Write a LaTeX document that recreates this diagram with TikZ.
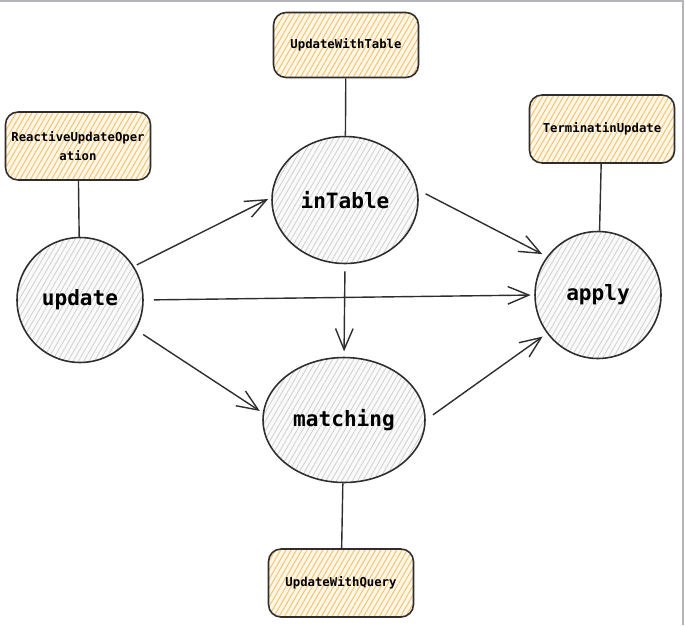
\documentclass[tikz,border=0pt]{standalone}
\usepackage{fontspec}
\setmonofont{DejaVu Sans Mono}
\usetikzlibrary{shapes.geometric,arrows.meta,patterns.meta}
\definecolor{hatchgray}{HTML}{CFCFCF}
\definecolor{hatchgold}{HTML}{F2B647}
\definecolor{inkgray}{HTML}{2E2E2E}
\definecolor{framegray}{HTML}{B4B4BC}
\tikzset{
  state/.style={ellipse, draw=inkgray, line width=0.9pt, inner sep=0pt,
    preaction={fill=gray!4},
    pattern={Lines[angle=60,distance=2.6pt,line width=0.45pt]}, pattern color=hatchgray,
    font=\ttfamily\bfseries\fontsize{12}{14}\selectfont},
  tag/.style={rectangle, rounded corners=0.25cm, draw=inkgray, line width=0.9pt,
    minimum width=2.9cm, minimum height=1.36cm, align=center, inner sep=2pt,
    preaction={fill=hatchgold!12},
    pattern={Lines[angle=60,distance=2.6pt,line width=0.5pt]}, pattern color=hatchgold!85,
    font=\ttfamily\bfseries\fontsize{7}{11}\selectfont},
  flow/.style={-{Straight Barb[length=12pt,width=10pt]}, line width=0.8pt, draw=inkgray},
  link/.style={line width=0.8pt, draw=inkgray}
}
\begin{document}
\begin{tikzpicture}[x=0.02cm,y=-0.02cm]
      \useasboundingbox (0,0) rectangle (685,625);
      \draw[framegray, line width=1.2pt] (0,1) -- (683,1) -- (683,625);
      \draw
        (80,300) node[state, minimum width=2.52cm, minimum height=2.5cm] (update){update}
        (345,200) node[state, minimum width=2.92cm, minimum height=2.54cm] (inTable){inTable}
        (344,420) node[state, minimum width=3.24cm, minimum height=2.5cm] (matching){matching}
        (598,295) node[state, minimum width=2.52cm, minimum height=2.54cm] (apply){apply};
      \draw
        (78,146) node[tag] (reactive){ReactiveUpdateOper\\ation}
        (346,45) node[tag, minimum height=1.3cm] (withTable){UpdateWithTable}
        (602,129) node[tag] (termin){TerminatinUpdate}
        (341,583) node[tag] (withQuery){UpdateWithQuery};
      \begin{scope}[link]
        \draw (reactive) to (update);
        \draw (withTable) to (inTable);
        \draw (termin) to (apply);
        \draw (withQuery) to (matching);
      \end{scope}
      \begin{scope}[flow]
        \draw[shorten <=2pt, shorten >=2pt] (update.32) to (inTable.178);
        \draw[shorten <=6pt, shorten >=2pt] (update.0) to (apply.180);
        \draw[shorten <=5pt, shorten >=2pt] (update.-28) to (matching.175);
        \draw[shorten <=5pt, shorten >=3pt] (inTable.8) to (apply.143);
        \draw[shorten <=4pt, shorten >=3pt] (inTable.south) to (matching.north);
        \draw[shorten <=5pt, shorten >=3pt] (matching.0) to (apply.217);
      \end{scope}
    \end{tikzpicture}
\end{document}
